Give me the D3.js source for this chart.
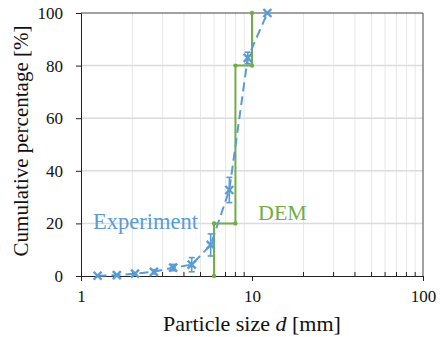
<!DOCTYPE html>
<html>
<head>
<meta charset="utf-8">
<script src="https://d3js.org/d3.v7.min.js"></script>
<style>
  body { margin: 0; background: #fff; }
</style>
</head>
<body>
<svg width="440" height="337"></svg>
<script>
// experiment points (size in mm, cumulative %, error +/-)
const expSize = [1.25, 1.62, 2.07, 2.67, 3.46, 4.44, 5.73, 7.37, 9.44, 12.3];
const expPct  = [0.1, 0.3, 0.9, 1.6, 3.2, 4.3, 11.8, 32.7, 82.9, 100];
const expErr  = [0.3, 0.3, 0.5, 0.8, 1.2, 2.7, 4.2, 4.8, 2.2, 0];

// DEM step curve
const demSize = [6, 6, 8, 8, 10, 10];
const demPct  = [0, 20, 20, 80, 80, 100];

const yTicks = [0, 20, 40, 60, 80, 100];
const xTicks = [1, 10, 100];

const blue = '#5b9bd5', green = '#70ad47';
const serif = "'Liberation Serif'";

const svg = d3.select('svg');
const pl = 81, pr = 423, pt = 13, pb = 276;

const x = d3.scaleLog().domain([1, 100]).range([pl, pr]);
const y = d3.scaleLinear().domain([0, 100]).range([pb, pt]);

// minor values for grid
const minor = [];
[1, 10].forEach(function (b) { for (let k = 2; k <= 9; k++) minor.push(b * k); });

// grid
svg.append('g').selectAll('line').data(minor).enter().append('line')
  .attr('x1', d => x(d)).attr('x2', d => x(d))
  .attr('y1', pt).attr('y2', pb)
  .attr('stroke', '#e8e8e8').attr('stroke-width', 1);
svg.append('g').selectAll('line').data(yTicks.slice(1, -1)).enter().append('line')
  .attr('x1', pl).attr('x2', pr)
  .attr('y1', d => y(d)).attr('y2', d => y(d))
  .attr('stroke', '#dcdcdc').attr('stroke-width', 1.5);

// frame top / right
svg.append('line').attr('x1', pl).attr('x2', pr).attr('y1', pt).attr('y2', pt)
  .attr('stroke', '#444').attr('stroke-width', 1);
svg.append('line').attr('x1', pr).attr('x2', pr).attr('y1', pt).attr('y2', pb)
  .attr('stroke', '#444').attr('stroke-width', 1);

// y axis
const yAxis = svg.append('g')
  .attr('transform', 'translate(' + pl + ',0)')
  .call(d3.axisLeft(y).tickValues(yTicks).tickSize(5).tickPadding(13));
yAxis.attr('font-family', serif).attr('font-size', 17);
yAxis.select('.domain').attr('stroke', '#222');
yAxis.selectAll('.tick line').attr('stroke', '#222');
yAxis.selectAll('.tick text').attr('fill', '#111');

// x axis: major ticks out, minor ticks in
const xAxis = svg.append('g')
  .attr('transform', 'translate(0,' + pb + ')')
  .call(d3.axisBottom(x).tickValues(xTicks).tickFormat(d3.format('d')).tickSize(5).tickPadding(9));
xAxis.attr('font-family', serif).attr('font-size', 17);
xAxis.select('.domain').attr('stroke', '#222');
xAxis.selectAll('.tick line').attr('stroke', '#222');
xAxis.selectAll('.tick text').attr('fill', '#111');
svg.append('g').selectAll('line').data(minor).enter().append('line')
  .attr('x1', d => x(d)).attr('x2', d => x(d))
  .attr('y1', pb).attr('y2', pb - 4)
  .attr('stroke', '#222');

// titles
svg.append('text')
  .attr('x', 252).attr('y', 331)
  .attr('text-anchor', 'middle').attr('fill', '#111')
  .attr('font-size', 22).attr('font-family', serif)
  .html('Particle size <tspan font-style="italic">d</tspan> [mm]');
svg.append('text')
  .attr('transform', 'translate(28,141) rotate(-90)')
  .attr('text-anchor', 'middle').attr('fill', '#111')
  .attr('font-size', 21).attr('font-family', serif)
  .text('Cumulative percentage [%]');

// DEM
const dem = demSize.map((d, i) => [d, demPct[i]]);
svg.append('path').datum(dem)
  .attr('d', d3.line().x(d => x(d[0])).y(d => y(d[1])))
  .attr('fill', 'none').attr('stroke', green).attr('stroke-width', 2);
svg.append('g').selectAll('circle').data(dem).enter().append('circle')
  .attr('cx', d => x(d[0])).attr('cy', d => y(d[1])).attr('r', 2.2)
  .attr('fill', green);

// experiment
const exp = expSize.map((d, i) => ({ s: d, p: expPct[i], e: expErr[i] }));
svg.append('path').datum(exp)
  .attr('d', d3.line().x(d => x(d.s)).y(d => y(d.p)))
  .attr('fill', 'none').attr('stroke', blue).attr('stroke-width', 2)
  .attr('stroke-dasharray', '9,5');

const eb = svg.append('g').attr('stroke', blue).attr('stroke-width', 1.6);
exp.filter(d => d.e > 0.5).forEach(function (d) {
  const cx = x(d.s);
  eb.append('line').attr('x1', cx).attr('x2', cx).attr('y1', y(d.p - d.e)).attr('y2', y(d.p + d.e));
  eb.append('line').attr('x1', cx - 3).attr('x2', cx + 3).attr('y1', y(d.p - d.e)).attr('y2', y(d.p - d.e));
  eb.append('line').attr('x1', cx - 3).attr('x2', cx + 3).attr('y1', y(d.p + d.e)).attr('y2', y(d.p + d.e));
});

const mk = svg.append('g').attr('stroke', blue).attr('stroke-width', 2.4);
exp.forEach(function (d) {
  const cx = x(d.s), cy = y(d.p), r = 4;
  mk.append('line').attr('x1', cx - r).attr('x2', cx + r).attr('y1', cy - r).attr('y2', cy + r);
  mk.append('line').attr('x1', cx - r).attr('x2', cx + r).attr('y1', cy + r).attr('y2', cy - r);
});

// labels
svg.append('text').attr('x', 93).attr('y', 229)
  .attr('font-size', 22.5).attr('font-family', serif).attr('fill', blue).text('Experiment');
svg.append('text').attr('x', 258).attr('y', 220)
  .attr('font-size', 22).attr('font-family', serif).attr('fill', green).text('DEM');
</script>
</body>
</html>
